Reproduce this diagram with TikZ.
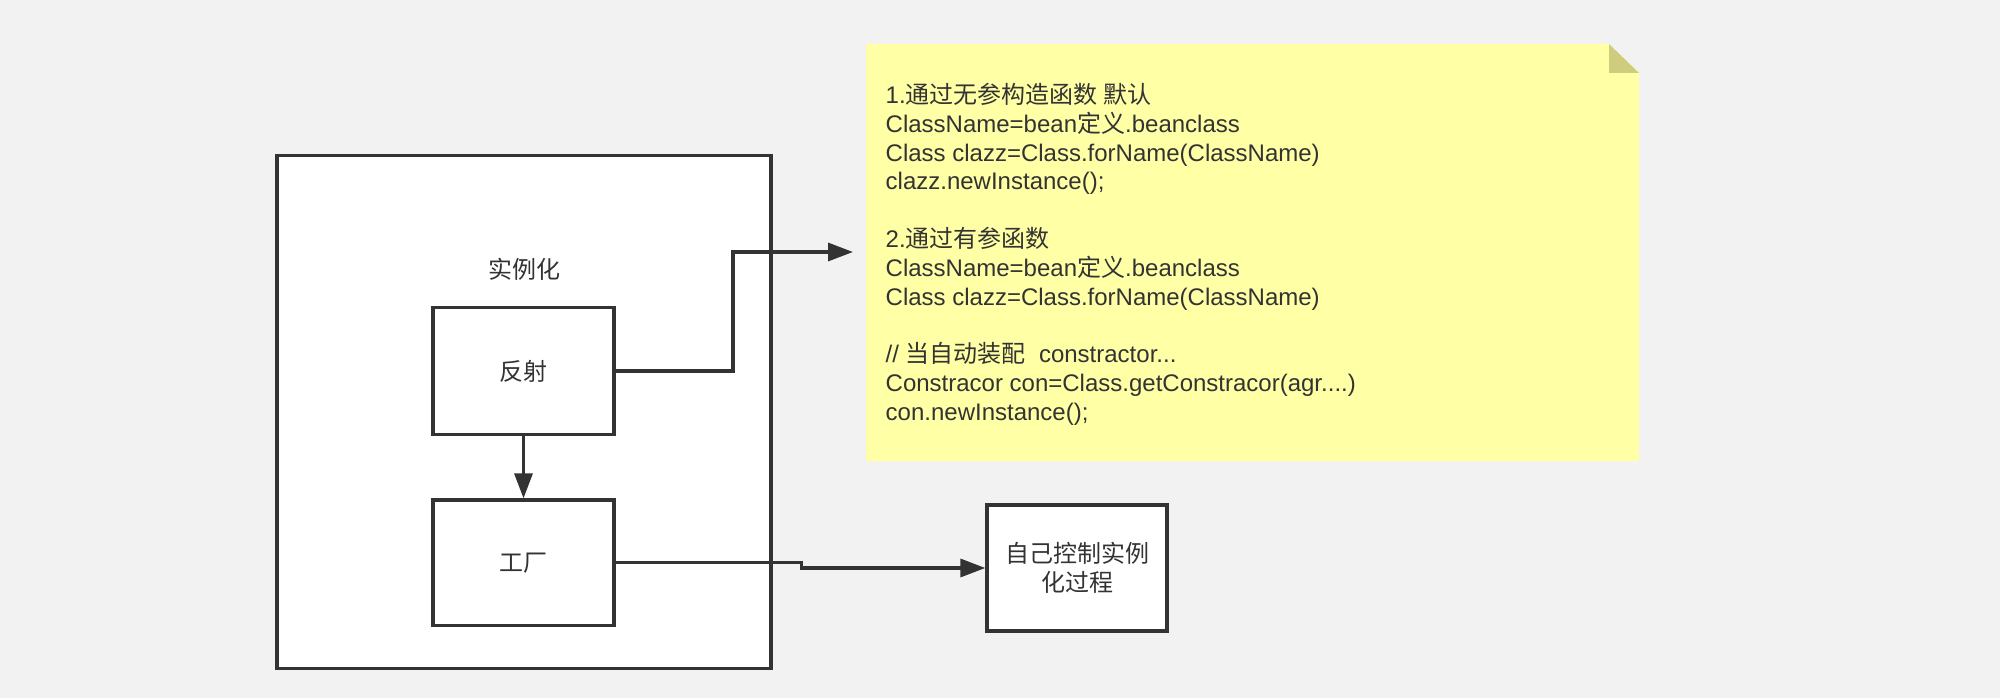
\documentclass[tikz,border=0pt]{standalone}
\usepackage{fontspec}
\setmainfont{Liberation Sans}
\newfontfamily\cjk{Noto Sans CJK SC}
\usetikzlibrary{arrows.meta}
\definecolor{bg}{HTML}{F2F2F2}
\definecolor{ink}{HTML}{333333}
\definecolor{notefill}{HTML}{FFFFA6}
\definecolor{notefold}{HTML}{CDCD7D}
\begin{document}
\begin{tikzpicture}[x=1pt,y=-1pt,
  txt/.style={font=\fontsize{24}{28.8}\selectfont, text=ink, inner sep=0pt},
  box/.style={txt, draw=ink, line width=3.3pt, fill=white, minimum width=181pt, minimum height=127pt, align=center},
  conn/.style={draw=ink, line width=3.3pt, -{Triangle[length=25pt,width=18pt]}},
  ln/.style={txt, anchor=base west}
]
\fill[bg] (0,0) rectangle (2000,698);
\useasboundingbox (0,0) rectangle (2000,698);
% outer container
\node[draw=ink, line width=3.3pt, fill=white, minimum width=494pt, minimum height=513pt, inner sep=0pt] (outer) at (524,412) {};
\node[txt] (title) at (524,269) {\cjk 实例化};
\node[box] (fs) at (523.5,371) {\cjk 反射};
\node[box, minimum height=125.5pt] (gc) at (523.5,562.75) {\cjk 工厂};
\node[box, minimum width=180pt, minimum height=126pt] (self) at (1077,568) {\cjk 自己控制实例\\\cjk 化过程};
% note
\fill[notefill] (866,44) -- (1609,44) -- (1639,73) -- (1639,461) -- (866,461) -- cycle;
\fill[notefold] (1609,44) -- (1639,73) -- (1609,73) -- cycle;
\coordinate (noteend) at (853,252);
\node[ln] (t1) at (885.5,103.5) {1.{\cjk 通过无参构造函数 默认}};
\node[ln] (t2) at (885.5,132.3) {ClassName=bean{\cjk 定义}.beanclass};
\node[ln] (t3) at (885.5,161.1) {Class clazz=Class.forName(ClassName)};
\node[ln] (t4) at (885.5,189.9) {clazz.newInstance();};
\node[ln] (t5) at (885.5,247.5) {2.{\cjk 通过有参函数}};
\node[ln] (t6) at (885.5,276.3) {ClassName=bean{\cjk 定义}.beanclass};
\node[ln] (t7) at (885.5,305.1) {Class clazz=Class.forName(ClassName)};
\node[ln] (t8) at (885.5,362.7) {// {\cjk 当自动装配}\ \ constractor...};
\node[ln] (t9) at (885.5,391.5) {Constracor con=Class.getConstracor(agr....)};
\node[ln] (t10) at (885.5,420.3) {con.newInstance();};
% connectors
\draw[conn] (fs.east) -- (733,371) -- (733,252) -- (noteend);
\draw[conn] (fs.south) -- (gc.north);
\draw[conn] (gc.east) -- (801.7,562.75) -- (801.7,568) -- (self.west);
\end{tikzpicture}
\end{document}
